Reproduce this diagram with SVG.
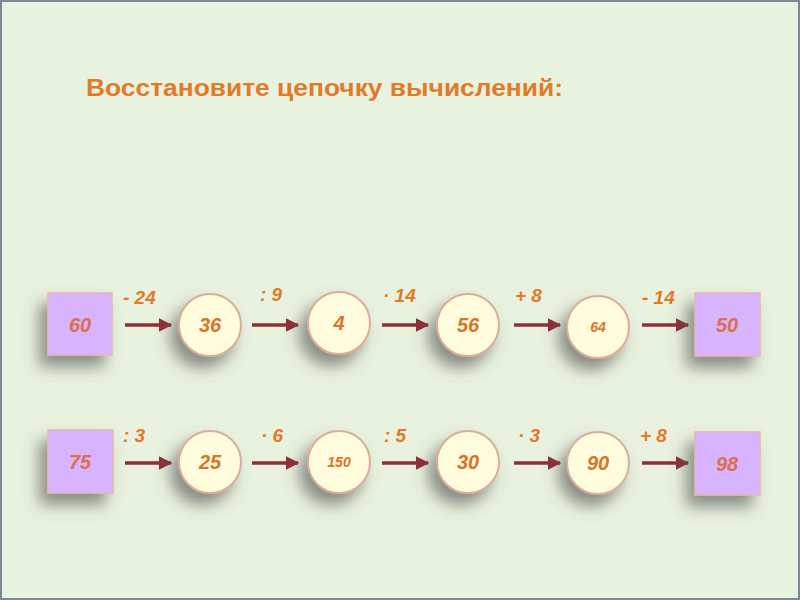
<svg xmlns="http://www.w3.org/2000/svg" width="800" height="600" viewBox="0 0 800 600">
<defs>
<style>
.title{font-family:"Liberation Sans",Arial,sans-serif;font-weight:bold;font-size:23px;fill:#E07B2A}
.num{font-family:"Liberation Sans",Arial,sans-serif;font-weight:bold;font-style:italic;font-size:20px;fill:#D8752A;text-anchor:middle}
.sq-num{fill:#D9704E}
.small{font-size:14px}
.op{font-family:"Liberation Sans",Arial,sans-serif;font-weight:bold;font-style:italic;font-size:19px;fill:#E07B2A}
.sq{fill:#D8B4FE;stroke:#E3B6B0;stroke-width:1.5}
.ci{fill:#FFFCDD;stroke:#D9AE98;stroke-width:2}
.arr{stroke:#8E2F35;stroke-width:3.5;fill:none;marker-end:url(#ah)}
</style>
<filter id="sh" x="-60%" y="-60%" width="220%" height="220%">
<feDropShadow dx="-8" dy="11" stdDeviation="8" flood-color="#555" flood-opacity="0.65"/>
</filter>
<marker id="ah" viewBox="0 0 10 10" refX="9" refY="5" markerWidth="4.6" markerHeight="3.8" orient="auto" markerUnits="strokeWidth">
<path d="M0,0 L10,5 L0,10 Z" fill="#8E2F35"/>
</marker>
</defs>
<rect x="1" y="1" width="798" height="598" fill="#E9F2DF" stroke="#7A8A9A" stroke-width="2"/>
<text class="title" x="86" y="96" textLength="477" lengthAdjust="spacingAndGlyphs">Восстановите цепочку вычислений:</text>

<g id="connectors">
<line class="arr" x1="125" y1="325" x2="171" y2="325"/>
<line class="arr" x1="252" y1="325" x2="298" y2="325"/>
<line class="arr" x1="382" y1="325" x2="428" y2="325"/>
<line class="arr" x1="514" y1="325" x2="560" y2="325"/>
<line class="arr" x1="642" y1="325" x2="688" y2="325"/>
<line class="arr" x1="125" y1="463" x2="171" y2="463"/>
<line class="arr" x1="252" y1="463" x2="298" y2="463"/>
<line class="arr" x1="382" y1="463" x2="428" y2="463"/>
<line class="arr" x1="514" y1="463" x2="560" y2="463"/>
<line class="arr" x1="642" y1="463" x2="688" y2="463"/>
<text class="op" x="123" y="304">- 24</text>
<text class="op" x="260" y="301">: 9</text>
<text class="op" x="383" y="302">· 14</text>
<text class="op" x="515" y="302">+ 8</text>
<text class="op" x="642" y="304">- 14</text>
<text class="op" x="123" y="442">: 3</text>
<text class="op" x="261" y="442">· 6</text>
<text class="op" x="384" y="442">: 5</text>
<text class="op" x="518" y="442">· 3</text>
<text class="op" x="640" y="442">+ 8</text>
</g>

<g id="n60"><rect class="sq" x="48" y="293" width="64" height="62" filter="url(#sh)"/><text class="num sq-num" x="80" y="332">60</text></g>
<g id="n36"><circle class="ci" cx="210" cy="325" r="31" filter="url(#sh)"/><text class="num" x="210" y="332">36</text></g>
<g id="n4"><circle class="ci" cx="339" cy="323" r="31" filter="url(#sh)"/><text class="num" x="339" y="330">4</text></g>
<g id="n56"><circle class="ci" cx="468" cy="325" r="31" filter="url(#sh)"/><text class="num" x="468" y="332">56</text></g>
<g id="n64"><circle class="ci" cx="598" cy="327" r="31" filter="url(#sh)"/><text class="num small" x="598" y="332">64</text></g>
<g id="n50"><rect class="sq" x="695" y="293" width="65" height="63" filter="url(#sh)"/><text class="num sq-num" x="727" y="332">50</text></g>

<g id="n75"><rect class="sq" x="48" y="430" width="65" height="63" filter="url(#sh)"/><text class="num sq-num" x="80" y="469">75</text></g>
<g id="n25"><circle class="ci" cx="210" cy="462" r="31" filter="url(#sh)"/><text class="num" x="210" y="469">25</text></g>
<g id="n150"><circle class="ci" cx="339" cy="462" r="31" filter="url(#sh)"/><text class="num small" x="339" y="467">150</text></g>
<g id="n30"><circle class="ci" cx="468" cy="462" r="31" filter="url(#sh)"/><text class="num" x="468" y="469">30</text></g>
<g id="n90"><circle class="ci" cx="598" cy="463" r="31" filter="url(#sh)"/><text class="num" x="598" y="470">90</text></g>
<g id="n98"><rect class="sq" x="695" y="432" width="65" height="63" filter="url(#sh)"/><text class="num sq-num" x="727" y="471">98</text></g>
</svg>
